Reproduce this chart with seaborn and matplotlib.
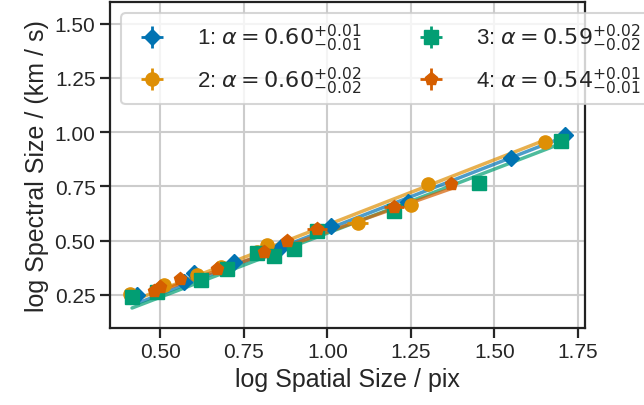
import numpy as np
import pandas as pd
import matplotlib
matplotlib.use("Agg")
import matplotlib.pyplot as plt
import seaborn as sns

# ---- data ----
labels = ["1", "2", "3", "4"]
alpha_val = [0.60, 0.60, 0.59, 0.54]
alpha_up = [0.01, 0.02, 0.02, 0.01]
alpha_lo = [0.01, 0.02, 0.02, 0.01]
intercepts = [-0.047, -0.027, -0.055, 0.0]
markers = ["D", "o", "s", "p"]

x1 = [0.43, 0.57, 0.60, 0.72, 0.86, 1.01, 1.24, 1.55, 1.71]
y1 = [0.25, 0.31, 0.35, 0.40, 0.47, 0.57, 0.68, 0.88, 0.985]
x2 = [0.41, 0.51, 0.61, 0.68, 0.79, 0.82, 1.09, 1.25, 1.30, 1.65]
y2 = [0.255, 0.295, 0.34, 0.38, 0.45, 0.48, 0.58, 0.665, 0.76, 0.955]
x3 = [0.415, 0.49, 0.62, 0.70, 0.79, 0.84, 0.90, 0.97, 1.20, 1.455, 1.70]
y3 = [0.24, 0.265, 0.32, 0.37, 0.445, 0.43, 0.46, 0.545, 0.635, 0.765, 0.96]
x4 = [0.48, 0.50, 0.56, 0.67, 0.81, 0.88, 0.97, 1.20, 1.37]
y4 = [0.27, 0.285, 0.325, 0.37, 0.45, 0.50, 0.553, 0.655, 0.76]
xerr1 = [0.01, 0.01, 0.01, 0.01, 0.01, 0.01, 0.01, 0.01, 0.01]
xerr2 = [0.01, 0.01, 0.01, 0.01, 0.01, 0.01, 0.03, 0.01, 0.01, 0.01]
xerr3 = [0.01] * 11
xerr4 = [0.01, 0.01, 0.01, 0.01, 0.01, 0.01, 0.03, 0.03, 0.01]
yerr1 = [0.01] * 9
yerr2 = [0.01] * 10
yerr3 = [0.01] * 11
yerr4 = [0.01] * 9

xs = [x1, x2, x3, x4]
ys = [y1, y2, y3, y4]
xerrs = [xerr1, xerr2, xerr3, xerr4]
yerrs = [yerr1, yerr2, yerr3, yerr4]

sns.set_theme(style="ticks", context="talk",
              rc={"axes.grid": True, "grid.color": "#cccccc", "grid.linewidth": 1.5,
                  "axes.edgecolor": "#222222", "axes.linewidth": 1.6})
plt.rcParams["font.family"] = ["Liberation Sans", "DejaVu Sans"]
plt.rcParams["mathtext.fontset"] = "dejavusans"

colors = sns.color_palette("colorblind")
fig = plt.figure(figsize=(6.44, 4.06), dpi=100)
ax = fig.add_axes([110 / 644, 1 - 328.5 / 406, 475 / 644, 325.5 / 406])

for i in range(4):
    xa = np.array(xs[i])
    fit = pd.DataFrame({"x": [xa.min(), xa.max()]})
    fit["y"] = alpha_val[i] * fit["x"] + intercepts[i]
    sns.lineplot(data=fit, x="x", y="y", ax=ax, color=colors[i], alpha=0.7,
                 lw=2.5, legend=False, zorder=2)

for i in range(4):
    lab = (f"{labels[i]}: $\\alpha = {alpha_val[i]:.2f}"
           f"^{{+{alpha_up[i]:.2f}}}_{{-{alpha_lo[i]:.2f}}}$")
    ax.errorbar(xs[i], ys[i], xerr=xerrs[i], yerr=yerrs[i], fmt=markers[i],
                color=colors[i], ms=9.5 if markers[i] != "D" else 8.5,
                elinewidth=2, capsize=0, label=lab, zorder=3 + i)

ax.set_xlim(0.349, 1.771)
ax.set_ylim(0.1, 1.6)
ax.set_xticks([0.5, 0.75, 1.0, 1.25, 1.5, 1.75])
ax.set_yticks([0.25, 0.5, 0.75, 1.0, 1.25, 1.5])
ax.tick_params(labelsize=15, length=7, width=1.6)
ax.set_xlabel("log Spatial Size / pix", fontsize=18)
ax.set_ylabel("log Spectral Size / (km / s)", fontsize=18)
ax.legend(loc="upper left", ncol=2, fontsize=16, framealpha=0.8,
          handletextpad=1.0, columnspacing=2.15)

fig.savefig("out.png", dpi=100)
